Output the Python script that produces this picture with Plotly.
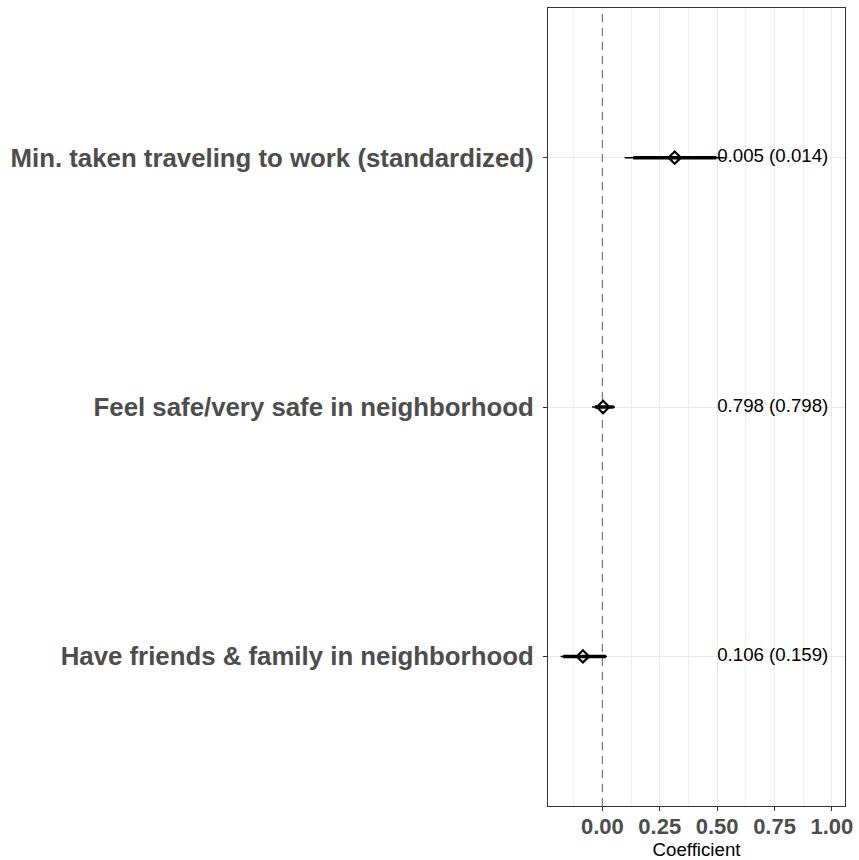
import plotly.graph_objects as go

labels = ["Min. taken traveling to work (standardized)",
          "Feel safe/very safe in neighborhood",
          "Have friends & family in neighborhood"]
estimate = [0.315, 0.003, -0.085]
inner_low = [0.134, -0.033, -0.171]
inner_high = [0.497, 0.049, 0.015]
outer_low = [0.097, -0.045, -0.182]
outer_high = [0.533, 0.055, 0.020]
value_text = ["0.005 (0.014)", "0.798 (0.798)", "0.106 (0.159)"]
text_x = [0.5, 0.5, 0.5]
x_ticks = [0.0, 0.25, 0.5, 0.75, 1.0]

FONT = "Liberation Sans, Arial, sans-serif"

# rows: first label on top
y_pos = list(range(len(labels)))[::-1]
y_range = [-0.6, len(labels) - 1 + 0.6]

fig = go.Figure()

# reference line at zero (drawn first so it sits beneath the marks)
fig.add_trace(go.Scatter(
    x=[0, 0], y=y_range, mode="lines",
    line=dict(color="#7F7F7F", width=1.3, dash="8px,6px"),
    showlegend=False, hoverinfo="skip"))

# point estimates (white-filled diamonds)
fig.add_trace(go.Scatter(
    x=estimate, y=y_pos, mode="markers",
    marker=dict(symbol="diamond", size=9.5, color="white",
                line=dict(color="black", width=2.2)),
    showlegend=False))

# outer (thin) interval
fig.add_trace(go.Scatter(
    x=estimate, y=y_pos, mode="markers",
    marker=dict(size=0.1, color="rgba(0,0,0,0)"),
    error_x=dict(type="data", symmetric=False,
                 array=[h - e for h, e in zip(outer_high, estimate)],
                 arrayminus=[e - l for l, e in zip(outer_low, estimate)],
                 thickness=1.5, width=0, color="black"),
    showlegend=False, hoverinfo="skip"))

# inner (thick) interval
fig.add_trace(go.Scatter(
    x=estimate, y=y_pos, mode="markers",
    marker=dict(size=0.1, color="rgba(0,0,0,0)"),
    error_x=dict(type="data", symmetric=False,
                 array=[h - e for h, e in zip(inner_high, estimate)],
                 arrayminus=[e - l for l, e in zip(inner_low, estimate)],
                 thickness=3.5, width=0, color="black"),
    showlegend=False, hoverinfo="skip"))

# value labels
fig.add_trace(go.Scatter(
    x=text_x, y=y_pos, mode="text", text=value_text,
    textposition="middle right",
    textfont=dict(family=FONT, size=18.7, color="black"),
    showlegend=False, hoverinfo="skip"))

fig.update_layout(
    width=859, height=860,
    margin=dict(l=548, r=14, t=8, b=54, autoexpand=False),
    paper_bgcolor="white", plot_bgcolor="white",
    font=dict(family=FONT),
    xaxis=dict(range=[-0.237, 1.057], tickvals=x_ticks,
               ticktext=[f"{v:.2f}" for v in x_ticks],
               tickfont=dict(family=FONT, size=22, color="#4D4D4D", weight="bold"),
               ticks="outside", ticklen=4, tickcolor="#333333", tickwidth=1.2,
               ticklabelstandoff=-4, ticklabeloverflow="allow",
               showgrid=True, gridcolor="#EBEBEB", gridwidth=1.1,
               minor=dict(tick0=0.125, dtick=0.25, showgrid=True,
                          gridcolor="#F0F0F0", gridwidth=0.7, ticks=""),
               showline=True, mirror=True, linecolor="#333333", linewidth=1.3,
               zeroline=False,
               title=dict(text="Coefficient", font=dict(family=FONT, size=18.7, color="black"),
                          standoff=10)),
    yaxis=dict(range=y_range, tickvals=y_pos, ticktext=labels,
               tickfont=dict(family=FONT, size=25.8, color="#4D4D4D", weight="bold"),
               ticks="outside", ticklen=4, tickcolor="#333333", tickwidth=1.2,
               ticklabelstandoff=4,
               showgrid=True, gridcolor="#EBEBEB", gridwidth=1.1,
               showline=True, mirror=True, linecolor="#333333", linewidth=1.3,
               zeroline=False),
)

fig.write_html("out.html", config={"displayModeBar": False},
               post_script="document.body.style.margin='0';document.body.style.overflow='hidden';")
